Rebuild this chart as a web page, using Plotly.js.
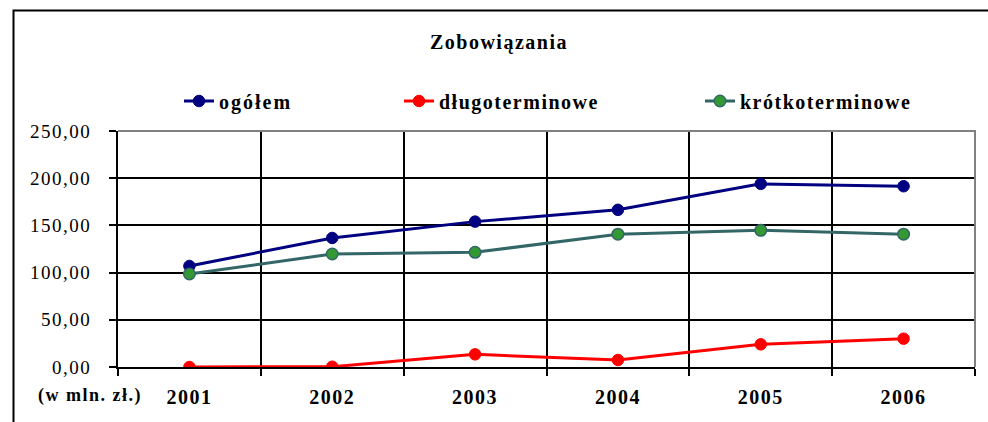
<!DOCTYPE html>
<html>
<head>
<meta charset="utf-8">
<script src="https://cdn.plot.ly/plotly-3.0.1.min.js"></script>
<style>
  html, body { margin: 0; padding: 0; background: #fff; }
  #chart { width: 988px; height: 422px; }
  #chart .main-svg text { letter-spacing: 1.5px; }
  #chart .main-svg .legendtext { letter-spacing: 2px; }
</style>
</head>
<body>
<div id="chart"></div>
<script>
// ---- data ----
const years = ['2001', '2002', '2003', '2004', '2005', '2006'];
const ogolem = [107.0, 136.7, 154.0, 166.5, 194.0, 191.5];
const dlugoterminowe = [0.0, 0.3, 13.4, 7.4, 24.0, 30.0];
const krotkoterminowe = [98.5, 119.7, 121.5, 140.7, 144.8, 140.7];
const seriesNames = ['ogółem', 'długoterminowe', 'krótkoterminowe'];
const yTicks = [0, 50, 100, 150, 200, 250];
const unitLabel = '(w mln. zł.)';
const chartTitle = 'Zobowiązania';

const FONT = 'Liberation Serif, Times New Roman, serif';

const traces = [
  {
    x: years, y: ogolem, name: seriesNames[0], type: 'scatter', mode: 'lines+markers',
    line: { color: '#000080', width: 3 },
    marker: { color: '#000080', size: 11.5, line: { color: '#000080', width: 1 } },
    legend: 'legend'
  },
  {
    x: years, y: dlugoterminowe, name: seriesNames[1], type: 'scatter', mode: 'lines+markers',
    line: { color: '#FF0000', width: 3 },
    marker: { color: '#FF0000', size: 11.5, line: { color: '#FF0000', width: 1 } },
    legend: 'legend2'
  },
  {
    x: years, y: krotkoterminowe, name: seriesNames[2], type: 'scatter', mode: 'lines+markers',
    line: { color: '#336666', width: 3 },
    marker: { color: '#339933', size: 11.5, line: { color: '#336666', width: 1.5 } },
    legend: 'legend3'
  }
];

function legendAt(px) {
  return {
    x: px / 988, xref: 'container', xanchor: 'left',
    y: 1 - 101 / 422, yref: 'container', yanchor: 'middle',
    orientation: 'h', bgcolor: 'rgba(0,0,0,0)', borderwidth: 0,
    entrywidth: 260, entrywidthmode: 'pixels',
    font: { family: FONT, size: 20, color: '#000', weight: 'bold' }
  };
}

// plot area: x 118..975, y 131..367
const L = 118, R = 975, T = 131, B = 367;
const pw = R - L, ph = B - T;
const px2paperX = p => (p - L) / pw;
const px2paperY = p => (B - p) / ph;

const layout = {
  width: 988, height: 422,
  margin: { l: L, r: 988 - R, t: T, b: 422 - B, pad: 0 },
  paper_bgcolor: '#ffffff', plot_bgcolor: '#ffffff',
  separators: ', ',
  font: { family: FONT, color: '#000' },
  title: {
    text: chartTitle,
    x: 0.505, xref: 'container', xanchor: 'center',
    y: 1 - 42 / 422, yref: 'container', yanchor: 'middle',
    font: { family: FONT, size: 20, color: '#000', weight: 'bold' }
  },
  showlegend: true,
  legend: legendAt(179),
  legend2: legendAt(399),
  legend3: legendAt(700),
  xaxis: {
    type: 'category',
    range: [-0.5, 5.5],
    tickson: 'boundaries',
    showgrid: true, gridcolor: '#000', gridwidth: 2,
    showline: true, linecolor: '#000', linewidth: 2,
    ticks: 'outside', ticklen: 7, tickwidth: 2, tickcolor: '#000',
    ticklabelstandoff: 11,
    tickfont: { family: FONT, size: 20, color: '#000', weight: 'bold' },
    zeroline: false, fixedrange: true
  },
  yaxis: {
    range: [0, 250],
    tickvals: yTicks,
    tickformat: '.2f',
    showgrid: true, gridcolor: '#000', gridwidth: 2,
    showline: true, linecolor: '#000', linewidth: 2,
    ticks: 'outside', ticklen: 7, tickwidth: 2, tickcolor: '#000',
    ticklabelstandoff: 14,
    tickfont: { family: FONT, size: 19, color: '#000' },
    zeroline: false, fixedrange: true
  },
  shapes: [
    // gray top/right border of plot area
    { type: 'path', xref: 'paper', yref: 'paper', path: 'M 0 1 L 1 1 L 1 0',
      line: { color: '#808080', width: 2 }, layer: 'above' },
    // outer frame (top and left edges)
    { type: 'path', xref: 'paper', yref: 'paper',
      path: 'M ' + px2paperX(13.5) + ' ' + px2paperY(440) + ' L ' + px2paperX(13.5) + ' ' + px2paperY(10.5) +
            ' L ' + px2paperX(1000) + ' ' + px2paperY(10.5),
      line: { color: '#000', width: 2 }, layer: 'above' }
  ],
  annotations: [
    { text: unitLabel, xref: 'paper', yref: 'paper',
      x: px2paperX(90), y: px2paperY(395), xanchor: 'center', yanchor: 'middle',
      showarrow: false, font: { family: FONT, size: 18, color: '#000', weight: 'bold' } }
  ]
};

Plotly.newPlot('chart', traces, layout, { displayModeBar: false, staticPlot: true });
</script>
</body>
</html>
